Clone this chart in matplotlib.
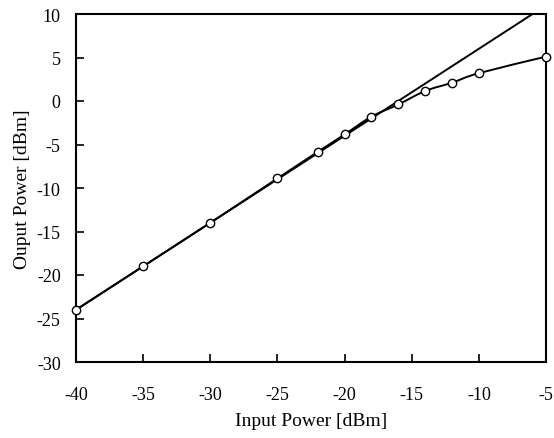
import matplotlib
matplotlib.use("Agg")
import matplotlib.pyplot as plt
from matplotlib.path import Path
from matplotlib.patches import PathPatch

input_power = [-40, -35, -30, -25, -22, -20, -18, -16, -14, -12, -10, -5]
output_power = [-24, -19, -14, -8.9, -5.85, -3.85, -1.8, -0.4, 1.15, 2.1, 3.2, 5.1]
ideal_x = [-40, -5]
ideal_gain = 16  # y = x + 16

plt.rcParams['font.family'] = ['Liberation Serif']
plt.rcParams['axes.unicode_minus'] = False
fig = plt.figure(figsize=(5.54, 4.39), dpi=100)
ax = fig.add_axes([76/554, 1-363/439, 470/554, 348/439])

ax.plot(ideal_x, [x + ideal_gain for x in ideal_x], color='black', lw=1.4, zorder=2)

# smoothed connecting line (Catmull-Rom style Bezier through the data points)
pts = list(zip(input_power, output_power))
verts = [pts[0]]
codes = [Path.MOVETO]
n = len(pts)
for i in range(n - 1):
    p0 = pts[i - 1] if i > 0 else pts[i]
    p1 = pts[i]
    p2 = pts[i + 1]
    p3 = pts[i + 2] if i + 2 < n else pts[i + 1]
    c1 = (p1[0] + (p2[0] - p0[0]) / 6, p1[1] + (p2[1] - p0[1]) / 6)
    c2 = (p2[0] - (p3[0] - p1[0]) / 6, p2[1] - (p3[1] - p1[1]) / 6)
    verts += [c1, c2, p2]
    codes += [Path.CURVE4] * 3
ax.add_patch(PathPatch(Path(verts, codes), facecolor='none', edgecolor='black',
                       lw=1.4, zorder=3))
ax.plot(input_power, output_power, ls='none', marker='o', ms=6,
        mfc='white', mec='black', mew=1.0, zorder=4, clip_on=False)

ax.set_xlim(-40, -5)
ax.set_ylim(-30, 10)
ax.set_xticks(range(-40, -4, 5))
ax.set_yticks(range(-30, 11, 5))
ax.tick_params(direction='in', length=6, width=1.2, labelsize=13)
ax.tick_params(axis='x', pad=17)
ax.tick_params(axis='y', pad=11)
ax.tick_params(top=False, right=False)
for s in ax.spines.values():
    s.set_linewidth(1.5)
ax.set_xlabel('Input Power [dBm]', fontsize=14, labelpad=7)
ax.set_ylabel('Ouput Power [dBm]', fontsize=14, labelpad=4)

fig.savefig('out.png', dpi=100)
